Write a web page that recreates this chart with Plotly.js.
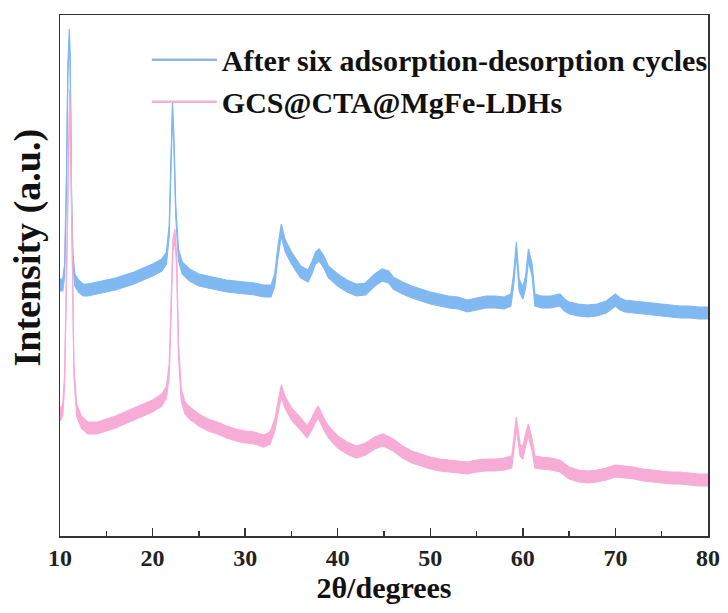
<!DOCTYPE html>
<html>
<head>
<meta charset="utf-8">
<script src="https://cdn.plot.ly/plotly-3.0.1.min.js"></script>
<style>html,body{margin:0;padding:0;background:#fff;}#chart{width:728px;height:613px;}</style>
</head>
<body>
<div id="chart"></div>
<script>
// 2θ (degrees) and intensity (a.u.)
var blueName = "After six adsorption-desorption cycles";
var pinkName = "GCS@CTA@MgFe-LDHs";

var blueX = [10,10.3,10.5,10.7,10.85,11.0,11.1,11.25,11.4,11.6,12,12.5,13,14,15,16,17,18,19,20,21,21.5,21.8,22.0,22.15,22.3,22.5,22.8,23.2,24,25,26,27,28,29,30,31,32,32.8,33.2,33.5,33.9,34.3,35,35.5,36,36.8,37.2,37.6,38,38.5,39,40,41,42,43,44,44.8,45.5,46,47,48,49,50,51,52,53,54,55,56,57,58,58.7,59.0,59.3,59.6,60.0,60.3,60.6,61.0,61.3,62,63,64,64.5,65,66,67,68,69,70,70.5,71,72,73,74,75,76,77,78,79,80];
var blueY = [251,251,266,356,466,501,476,336,276,256,250,246,246,248,250,252,255,258,262,266,271,278,306,386,429,396,326,281,268,261,256,254,252,250,249,248,247,245,245,256,281,306,291,278,271,264,260,268,278,281,274,264,256,250,246,247,256,261,259,253,248,244,241,238,236,234,233,230,232,234,234,233,236,256,288,251,243,254,281,266,236,234,234,236,231,228,226,225,226,229,236,232,230,229,228,227,226,225,224,224,223,223];

var pinkX = [10,10.3,10.5,10.7,10.85,11.05,11.2,11.35,11.5,11.8,12.3,13,14,15,16,17,18,19,20,21,21.5,21.8,22.0,22.2,22.4,22.6,22.8,23.1,23.5,24,25,26,27,28,29,30,31,32,32.7,33.2,33.6,33.9,34.3,35,36,36.7,37.2,37.6,37.9,38.5,39,40,41,42,43,44,44.9,46,47,48,49,50,51,52,53,54,55,56,57,58,58.8,59.1,59.3,59.7,60.0,60.3,60.6,61.0,61.3,62,63,64,65,66,67,68,69,70,71,72,73,74,75,76,77,78,79,80];
var pinkY = [121,126,156,256,356,441,366,276,166,126,114,108,108,111,114,118,122,126,130,136,144,166,236,291,301,276,186,141,128,123,116,111,108,104,101,99,98,95,98,111,131,145,134,122,112,104,112,120,124,112,104,94,88,84,87,93,96,91,84,79,76,73,71,70,69,68,70,71,71,72,74,96,113,86,83,96,106,91,74,73,72,70,63,60,59,60,62,65,64,63,61,60,59,58,58,57,56,56];

var xTickStart = 10, xTickStep = 10;

var serif = "Liberation Serif, Times New Roman, serif";
var blueBand = "#80b9f1";
var pinkBand = "#f7acd6";
var bandHalf = 6; // visual thickness of the noisy band (style)

function band(xs, ys, color, half, op) {
  var lo = ys.map(function (v) { return v - half; });
  var hi = ys.map(function (v) { return v + half; });
  return [
    {x: xs, y: lo, type: "scatter", mode: "lines", showlegend: false, hoverinfo: "skip",
     line: {color: color, width: 1.2}, opacity: op},
    {x: xs, y: hi, type: "scatter", mode: "lines", showlegend: false, hoverinfo: "skip",
     line: {color: color, width: 1.2}, fill: "tonexty", fillcolor: color, opacity: op}
  ];
}

var traces = []
  .concat(band(blueX, blueY, blueBand, bandHalf, 1))
  .concat(band(pinkX, pinkY, pinkBand, bandHalf, 0.85))
  .concat([
    {x: [null], y: [null], type: "scatter", mode: "lines", name: blueName,
     line: {color: "#8db6e2", width: 2.5}},
    {x: [null], y: [null], type: "scatter", mode: "lines", name: pinkName,
     line: {color: "#f0b3d2", width: 2.5}}
  ]);

var layout = {
  width: 728, height: 613,
  margin: {l: 60, r: 20, t: 15, b: 77},
  paper_bgcolor: "#fff", plot_bgcolor: "#fff",
  font: {family: serif, color: "#222", weight: "bold"},
  xaxis: {
    range: [10, 80], tickmode: "linear", tick0: xTickStart, dtick: xTickStep,
    ticks: "inside", ticklen: 8, tickwidth: 1.5, tickcolor: "#333",
    minor: {dtick: 5, tick0: 5, ticks: "inside", ticklen: 5, tickwidth: 1.5, tickcolor: "#333", showgrid: false},
    showline: true, linecolor: "#333", linewidth: 1.5, mirror: true,
    showgrid: false, zeroline: false,
    tickfont: {family: serif, size: 24, color: "#222", weight: "bold"},
    title: {text: "2θ/degrees", font: {family: serif, size: 30, color: "#111", weight: "bold"}, standoff: 4}
  },
  yaxis: {
    range: [0, 521], showticklabels: false, ticks: "",
    showline: true, linecolor: "#333", linewidth: 1.5, mirror: true,
    showgrid: false, zeroline: false
  },
  legend: {
    x: 0.134, y: 0.964, xanchor: "left", yanchor: "top", traceorder: "normal",
    bgcolor: "rgba(0,0,0,0)", itemwidth: 65, tracegroupgap: 0,
    font: {family: serif, size: 30, color: "#111", weight: "bold"}
  },
  annotations: [{
    text: "Intensity (a.u.)", textangle: -90, showarrow: false,
    xref: "paper", yref: "paper", x: -0.05, y: 0.553, xanchor: "center", yanchor: "middle",
    font: {family: serif, size: 38, color: "#111", weight: "bold"}
  }]
};

Plotly.newPlot("chart", traces, layout, {displayModeBar: false, staticPlot: true});
</script>
</body>
</html>
